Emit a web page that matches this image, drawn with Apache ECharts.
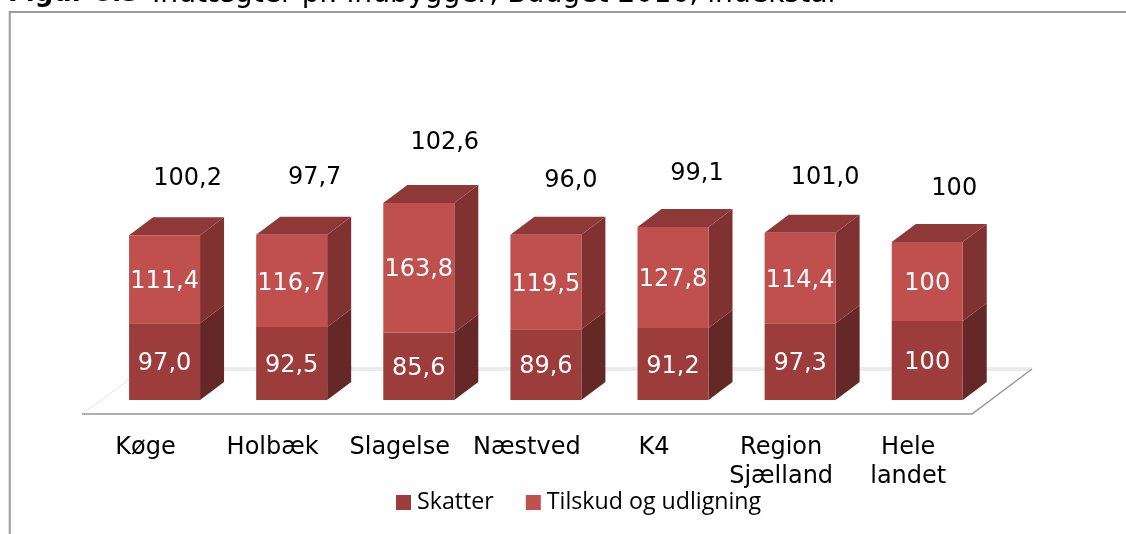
<!DOCTYPE html>
<html><head><meta charset="utf-8">
<style>html,body{margin:0;padding:0;background:#fff}#c{width:1126px;height:534px}</style>
<script src="https://cdn.jsdelivr.net/npm/echarts@6/dist/echarts.min.js"></script>
</head><body><div id="c"></div>
<script>
var categories = ['Køge','Holbæk','Slagelse','Næstved','K4','Region\nSjælland','Hele\nlandet'];
var skatter = [97.0,92.5,85.6,89.6,91.2,97.3,100];
var tilskud = [111.4,116.7,163.8,119.5,127.8,114.4,100];
var totals = [100.2,97.7,102.6,96.0,99.1,101.0,100];
var fmt = function(v){ return v===100 ? '100' : v.toFixed(1).replace('.',','); };
var FONT='"DejaVu Sans",sans-serif';
var DX=24, DY=18, BW=71;
// small per-label nudges of the total labels, relative to their bar's top
var nudgeX=[0,0,3,2,1,2,4];
var nudgeY=[0,0,-3,3,4,2,4];
function poly(pts,fill){ return {type:'polygon',shape:{points:pts},style:{fill:fill}}; }
function sideRender(p,api){
  var i=api.value(0), a=api.value(1), b=api.value(2);
  var s=api.coord([i,a]), t=api.coord([i,b]);
  var xr=s[0]+BW/2, xl=s[0]-BW/2;
  var kids=[poly([[xr,s[1]],[xr+DX,s[1]-DY],[xr+DX,t[1]-DY],[xr,t[1]]],api.value(3)===0?'#652827':'#7f3230')];
  if(api.value(3)===1) kids.push(poly([[xl,t[1]],[xl+DX,t[1]-DY],[xr+DX,t[1]-DY],[xr,t[1]]],'#8e3938'));
  return {type:'group',children:kids};
}
var sideData=[];
categories.forEach(function(c,i){
  sideData.push([i,0,skatter[i],0]);
  sideData.push([i,skatter[i],skatter[i]+tilskud[i],1]);
});
var totalData=categories.map(function(c,i){return [i,skatter[i]+tilskud[i],totals[i]];});
var chart=echarts.init(document.getElementById('c'),null,{renderer:'canvas'});
chart.setOption({
  animation:false,
  backgroundColor:'#fff',
  graphic:[
    {type:'polyline',shape:{points:[[9.75,534],[9.75,12],[1126,12]]},style:{stroke:'#9c9c9c',lineWidth:2,fill:null},z:10},
    {type:'line',shape:{x1:130,y1:369,x2:1032,y2:369},style:{stroke:'#ebebeb',lineWidth:4},z:-1},
    {type:'polyline',shape:{points:[[130,379],[82,414]]},style:{stroke:'#e4e4e4',lineWidth:1,fill:null},z:-1},
    {type:'polyline',shape:{points:[[82,414],[972,414],[1032,369]]},style:{stroke:'#969696',lineWidth:1.5,fill:null},z:-1},
    {type:'text',left:8,top:-19,style:{text:'Figur 8.3',font:'bold 26px '+FONT,fill:'#000'},z:5},
    {type:'text',left:152,top:-19,style:{text:'Indtægter pr. indbygger, Budget 2016, indekstal',font:'28.2px '+FONT,fill:'#000'},z:5}
  ],
  legend:{
    left:391,top:486,itemWidth:15,itemHeight:15,itemGap:32,icon:'rect',
    selectedMode:false,
    textStyle:{fontFamily:'"Open Sans",sans-serif',fontSize:23.2,color:'#000',padding:[0,0,0,1]},
    data:['Skatter','Tilskud og udligning']
  },
  grid:{left:101,width:889.8,top:44.5,height:355.5},
  xAxis:{type:'category',data:categories,
    axisLine:{show:false},axisTick:{show:false},
    axisLabel:{interval:0,margin:33,color:'#000',fontFamily:FONT,fontSize:24,lineHeight:29,padding:[0,38,0,0]}},
  yAxis:{type:'value',min:0,max:450,show:false},
  series:[
    {type:'custom',name:'sider',renderItem:sideRender,data:sideData,encode:{x:0,y:2},z:1,silent:true},
    {type:'bar',name:'Skatter',stack:'a',data:skatter,barWidth:BW,z:2,
      itemStyle:{color:'#9c3d3b'},
      label:{show:true,position:'inside',offset:[0,2.5],color:'#fff',fontFamily:FONT,fontSize:24,formatter:function(p){return fmt(p.value);}}},
    {type:'bar',name:'Tilskud og udligning',stack:'a',data:tilskud,barWidth:BW,z:2,
      itemStyle:{color:'#c0504d'},
      label:{show:true,position:'inside',offset:[0,2.5],color:'#fff',fontFamily:FONT,fontSize:24,formatter:function(p){return fmt(p.value);}}},
    {type:'custom',name:'I alt',data:totalData,encode:{x:0,y:1},z:3,silent:true,
      renderItem:function(p,api){
        var i=api.value(0), c=api.coord([i,api.value(1)]);
        return {type:'text',x:c[0]+23+nudgeX[i],y:c[1]-57+nudgeY[i],style:{text:fmt(api.value(2)),font:'24px '+FONT,fill:'#000',align:'center',verticalAlign:'middle'}};
      }}
  ]
});
</script></body></html>
